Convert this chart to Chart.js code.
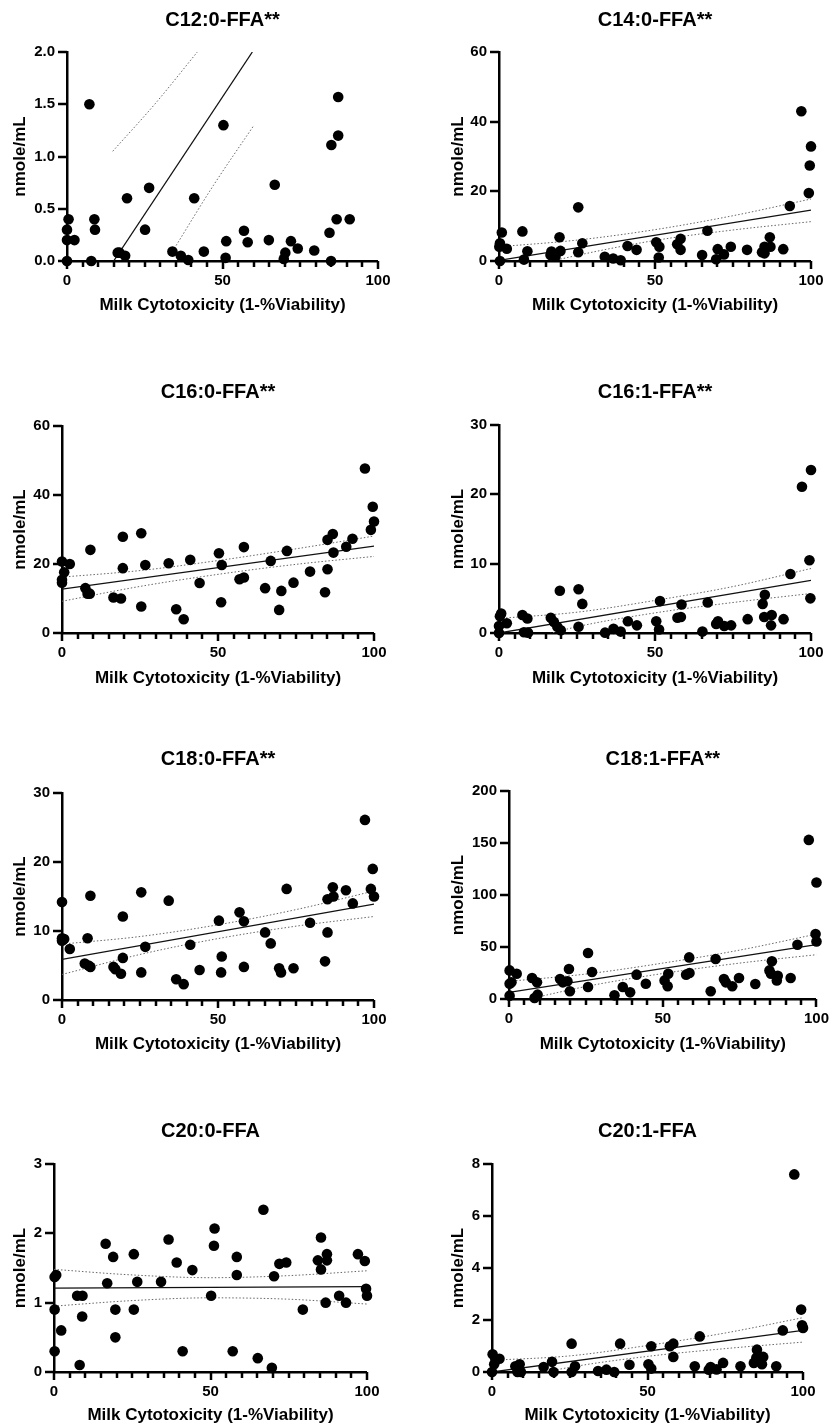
<!DOCTYPE html>
<html><head><meta charset="utf-8">
<script src="https://cdn.jsdelivr.net/npm/chart.js@4.4.1/dist/chart.umd.min.js"></script>
<style>
html,body{margin:0;padding:0;background:#fff;width:834px;height:1427px;overflow:hidden;}
canvas{position:absolute;}
</style></head><body>
<script>
// ---------- DATA ----------
const titles = ['C12:0-FFA**','C14:0-FFA**','C16:0-FFA**','C16:1-FFA**','C18:0-FFA**','C18:1-FFA**','C20:0-FFA','C20:1-FFA'];
const xAxisTitle = 'Milk Cytotoxicity (1-%Viability)';
const yAxisTitle = 'nmole/mL';
const xTickLabels = ['0','50','100'];
const yMax = [2, 60, 60, 30, 30, 200, 3, 8];
const yStep = [0.5, 20, 20, 10, 10, 50, 1, 2];

const c12_0_points = [[0,0],[0,0.3],[0,0.2],[0.5,0.4],[2.4,0.2],[7.2,1.5],[7.8,0],[8.8,0.4],[9.0,0.3],[16.3,0.08],[16.9,0.08],[18.7,0.05],[19.3,0.6],[25.1,0.3],[26.4,0.7],[33.9,0.09],[36.6,0.05],[39.0,0.01],[40.9,0.6],[44.0,0.09],[50.3,1.3],[51.2,0.19],[51.0,0.03],[56.9,0.29],[58.1,0.18],[64.9,0.2],[66.8,0.73],[69.7,0.02],[70.2,0.08],[72.0,0.19],[74.2,0.12],[79.5,0.1],[84.4,0.27],[84.9,0],[85.0,1.11],[87.2,1.2],[87.2,1.57],[86.7,0.4],[90.9,0.4]];
const c12_0_fit = [[15,0],[59.6,2]];
const c12_0_upper = [[14.7,1.05],[28.2,1.5],[41.9,2.0]];
const c12_0_lower = [[34.5,0.12],[47,0.72],[59.9,1.29]];

const c14_0_points = [[0.3,0],[0.1,4.1],[0.3,5.1],[0.9,8.2],[2.5,3.5],[7.5,8.5],[8.0,0.4],[9.1,2.8],[16.5,1.7],[16.8,2.7],[18.1,1.2],[19.4,6.8],[19.7,2.9],[25.4,15.4],[25.4,2.5],[26.7,5.1],[33.9,1.2],[36.6,0.7],[39.0,0.2],[41.2,4.3],[44.1,3.2],[50.4,5.4],[51.4,4.1],[51.2,1.0],[57.1,4.8],[58.2,6.4],[58.2,3.2],[65.1,1.7],[66.8,8.7],[69.6,0.5],[70.1,3.4],[72.1,1.9],[74.3,4.1],[79.5,3.2],[84.3,2.5],[85.1,4.1],[85.1,2.2],[86.8,6.8],[87.0,4.1],[91.1,3.4],[93.2,15.8],[96.9,43.0],[99.3,19.5],[99.6,27.4],[100,32.9]];
const c14_0_fit = [[0,0.2],[100,14.6]];
const c14_0_upper = [[0,4.1],[25,6.0],[50,9.0],[75,13.0],[100,17.8]];
const c14_0_lower = [[0,-3.7],[25,1.6],[50,5.9],[75,8.9],[100,11.3]];

const c16_0_points = [[0,20.7],[0,15.4],[0,14.6],[0.7,17.6],[2.5,20.0],[7.5,13.0],[8.2,11.4],[8.9,11.4],[9.1,24.1],[16.5,10.3],[18.9,10.0],[19.5,27.9],[19.5,18.8],[25.4,7.7],[25.4,28.9],[26.7,19.7],[34.2,20.2],[36.6,6.9],[39.0,4.0],[41.1,21.2],[44.1,14.5],[50.3,23.1],[51.2,19.7],[51.0,8.9],[56.9,15.6],[58.3,16.1],[58.3,24.9],[65.1,13.0],[66.9,20.9],[69.6,6.7],[70.3,12.2],[72.1,23.8],[74.2,14.6],[79.5,17.8],[84.3,11.8],[85.1,18.5],[85.1,27.0],[86.8,28.7],[87.0,23.3],[91.1,25.0],[93.1,27.3],[97.1,47.7],[99.0,29.9],[99.6,36.6],[100,32.3]];
const c16_0_fit = [[0,12.7],[100,25.2]];
const c16_0_upper = [[0,16.2],[25,18.1],[50,21.0],[75,24.4],[100,28.1]];
const c16_0_lower = [[0,9.2],[25,13.5],[50,17.0],[75,19.9],[100,22.2]];

const c16_1_points = [[0,0],[0,1.0],[0.3,2.4],[0.7,2.8],[2.5,1.4],[7.5,2.6],[8.0,0.1],[9.1,2.1],[9.3,0.05],[16.6,2.2],[17.6,1.6],[18.7,0.9],[19.5,6.1],[19.8,0.4],[25.5,6.3],[25.5,0.9],[26.7,4.2],[34.0,0.05],[36.7,0.6],[39.0,0.2],[41.3,1.7],[44.2,1.1],[50.4,1.7],[51.6,4.6],[51.3,0.5],[57.2,2.2],[58.3,2.3],[58.5,4.1],[65.2,0.2],[66.9,4.4],[69.6,1.3],[70.2,1.7],[72.2,1.0],[74.4,1.1],[79.7,2.0],[84.5,4.2],[85.2,5.5],[85.0,2.3],[87.2,1.1],[87.4,2.6],[91.2,2.0],[93.4,8.5],[97.1,21.1],[99.5,10.5],[100,23.5],[99.8,5.0]];
const c16_1_fit = [[0,0],[100,7.6]];
const c16_1_upper = [[0,2.1],[25,3.0],[50,4.7],[75,6.7],[100,9.3]];
const c16_1_lower = [[0,-2.1],[25,0.9],[50,2.9],[75,4.4],[100,5.7]];

const c18_0_points = [[0,14.2],[0,8.95],[0,8.6],[0.7,8.85],[2.5,7.4],[7.3,5.3],[8.2,8.95],[8.5,5.0],[9.1,4.8],[9.1,15.1],[16.5,4.8],[17.1,4.45],[18.9,3.8],[19.5,12.1],[19.5,6.1],[25.4,15.6],[25.4,4.0],[26.7,7.7],[34.2,14.4],[36.6,3.0],[39.0,2.3],[41.1,8.0],[44.1,4.35],[50.3,11.5],[51.2,6.3],[51.0,4.0],[56.9,12.7],[58.3,11.4],[58.3,4.8],[65.1,9.8],[66.9,8.2],[69.6,4.6],[70.2,4.0],[72.0,16.1],[74.2,4.6],[79.5,11.2],[84.3,5.6],[85.1,9.8],[85.1,14.6],[86.8,16.35],[87.0,15.0],[91.0,15.9],[93.2,14.0],[97.1,26.1],[99.0,16.1],[99.6,19.0],[100,15.0]];
const c18_0_fit = [[0,5.9],[100,13.9]];
const c18_0_upper = [[0,8.1],[25,9.2],[50,10.9],[75,13.1],[100,15.8]];
const c18_0_lower = [[0,3.7],[25,6.6],[50,8.9],[75,10.7],[100,12.1]];

const c18_1_points = [[0.2,27.5],[0.2,14.7],[0.8,16.0],[0.2,3.2],[2.5,24.3],[7.5,20.2],[8.3,1.0],[9.1,16],[9.3,4.2],[16.6,19.2],[17.5,16],[19.0,17],[19.5,28.8],[19.8,7.4],[25.7,44.2],[25.7,11.5],[27.0,25.9],[34.3,3.5],[37.0,11.5],[39.4,6.4],[41.5,23.4],[44.5,14.7],[50.6,17.9],[51.8,24.3],[51.6,12.2],[57.6,23.4],[58.7,25],[58.6,40],[65.6,7.4],[67.2,38.4],[69.9,19.2],[70.5,16],[72.6,12.2],[74.8,20.2],[80.1,14.4],[84.7,27.5],[85.5,36.2],[85.2,24.3],[87.1,17.9],[87.4,22.4],[91.6,20.2],[93.8,52.2],[97.5,153],[99.7,62.4],[100,55.4],[100,112]];
const c18_1_fit = [[0,6.4],[100,52.2]];
const c18_1_upper = [[0,17],[25,24],[50,34.5],[75,47],[100,62.4]];
const c18_1_lower = [[0,-4.5],[25,12],[50,24.5],[75,34.5],[100,42.6]];

const c20_0_points = [[0.2,1.37],[0.7,1.40],[0.2,0.9],[0.2,0.3],[2.3,0.6],[7.4,1.1],[8.2,0.1],[9.1,1.1],[9.0,0.8],[16.5,1.85],[17.0,1.28],[18.9,1.66],[19.6,0.9],[19.6,0.5],[25.5,1.7],[25.5,0.9],[26.6,1.3],[34.2,1.3],[36.6,1.91],[39.2,1.58],[41.1,0.3],[44.2,1.47],[50.2,1.1],[51.1,1.82],[51.3,2.07],[57.1,0.3],[58.4,1.66],[58.4,1.40],[65.1,0.2],[66.9,2.34],[69.6,0.06],[70.3,1.38],[72.0,1.56],[74.2,1.58],[79.5,0.9],[84.3,1.61],[85.3,1.48],[85.3,1.94],[87.2,1.7],[87.2,1.61],[86.8,1.0],[91.1,1.1],[93.3,1.0],[97.1,1.7],[99.3,1.6],[99.7,1.2],[100,1.1]];
const c20_0_fit = [[0,1.21],[100,1.23]];
const c20_0_upper = [[0,1.48],[25,1.40],[50,1.36],[75,1.39],[100,1.46]];
const c20_0_lower = [[0,0.95],[25,1.03],[50,1.07],[75,1.05],[100,0.98]];

const c20_1_points = [[0.2,0.68],[0,0],[0.7,0.3],[1.1,0.49],[2.4,0.51],[7.5,0.22],[8.2,0],[8.9,0.3],[9.3,0],[16.6,0.19],[19.3,0.39],[19.8,0],[25.6,1.09],[25.6,0],[26.7,0.22],[34.1,0.04],[36.8,0.09],[39.3,0],[41.2,1.09],[44.2,0.28],[50.3,0.3],[51.2,0.99],[51.2,0.13],[57.2,0.99],[58.3,1.09],[58.3,0.58],[65.2,0.22],[66.8,1.37],[69.7,0.09],[70.3,0.19],[72.2,0.1],[74.3,0.35],[79.9,0.22],[84.2,0.35],[85.2,0.86],[85.0,0.55],[86.8,0.3],[87.2,0.58],[91.4,0.22],[93.5,1.6],[97.2,7.6],[99.4,2.4],[99.7,1.8],[100,1.69]];
const c20_1_fit = [[0,0],[100,1.6]];
const c20_1_upper = [[0,0.45],[25,0.62],[50,1.02],[75,1.5],[100,2.09]];
const c20_1_lower = [[0,-0.45],[25,0.18],[50,0.6],[75,0.9],[100,1.15]];

const panelPoints = [c12_0_points,c14_0_points,c16_0_points,c16_1_points,c18_0_points,c18_1_points,c20_0_points,c20_1_points];
const panelFit = [c12_0_fit,c14_0_fit,c16_0_fit,c16_1_fit,c18_0_fit,c18_1_fit,c20_0_fit,c20_1_fit];
const panelUpper = [c12_0_upper,c14_0_upper,c16_0_upper,c16_1_upper,c18_0_upper,c18_1_upper,c20_0_upper,c20_1_upper];
const panelLower = [c12_0_lower,c14_0_lower,c16_0_lower,c16_1_lower,c18_0_lower,c18_1_lower,c20_0_lower,c20_1_lower];

// ---------- LAYOUT (page pixels) ----------
const layout = [
  {L:67, R:378, T:52,  B:261,  titleY:19.5, xTitleY:305,  yTitleX:20},
  {L:499,R:811, T:52,  B:261,  titleY:19.5, xTitleY:305,  yTitleX:458},
  {L:62, R:374, T:426, B:633,  titleY:392,  xTitleY:678,  yTitleX:20},
  {L:499,R:811, T:425, B:633,  titleY:392,  xTitleY:678,  yTitleX:458},
  {L:62, R:374, T:793, B:1000, titleY:759,  xTitleY:1044, yTitleX:20},
  {L:509,R:820, T:791, B:999,  titleY:759,  xTitleY:1044, yTitleX:458},
  {L:54, R:367, T:1164,B:1372, titleY:1131, xTitleY:1415, yTitleX:20},
  {L:492,R:803, T:1164,B:1372, titleY:1131, xTitleY:1415, yTitleX:458}
];

const FONT = "'Liberation Sans', Arial, Helvetica, sans-serif";
const TITLE_SIZE = 20, AXT_SIZE = 17, TICK_SIZE = 15;
const toXY = arr => arr.map(p => ({x:p[0], y:p[1]}));

// axis tick marks (long at labelled values, short otherwise) at the scales' own tick values
const prismTicks = {
  id: 'prismTicks',
  afterDraw(chart) {
    const ctx = chart.ctx, xs = chart.scales.x, ys = chart.scales.y, a = chart.chartArea;
    ctx.save();
    ctx.fillStyle = '#000';
    xs.ticks.forEach(t => {
      const px = Math.round(xs.getPixelForValue(t.value));
      const len = xTickLabels.includes(String(t.value)) ? 8 : 6;
      ctx.fillRect(px - 1.25, a.bottom, 2.5, len);
    });
    ys.ticks.forEach(t => {
      const py = Math.round(ys.getPixelForValue(t.value));
      ctx.fillRect(a.left - 9, py - 1.25, 9, 2.5);
    });
    ctx.restore();
  }
};

function makeChart(i){
  const lay = layout[i];
  const tLH = TITLE_SIZE*1.2, aLH = AXT_SIZE*1.2;
  const cl = Math.round(lay.yTitleX - aLH/2);
  const ct = Math.round(lay.titleY - tLH/2);
  const cr = Math.min(834, lay.R + 26);
  const cb = Math.ceil(lay.xTitleY + aLH/2) + 2;
  const yw = lay.L - cl;
  const xh = lay.xTitleY + aLH/2 - lay.B;
  const padBottom = cb - (lay.xTitleY + aLH/2);
  const canvas = document.createElement('canvas');
  canvas.width = cr - cl; canvas.height = cb - ct;
  canvas.style.left = cl + 'px'; canvas.style.top = ct + 'px';
  canvas.style.width = (cr - cl) + 'px'; canvas.style.height = (cb - ct) + 'px';
  document.body.appendChild(canvas);

  const yDec = yStep[i] < 1;
  new Chart(canvas, {
    type: 'scatter',
    data: { datasets: [
      { data: toXY(panelPoints[i]), pointRadius: 5.3, pointBackgroundColor: '#000', pointBorderWidth: 0, pointBorderColor:'#000', showLine: false, clip: false },
      { data: toXY(panelFit[i]), showLine: true, borderColor: '#111', borderWidth: 1.3, pointRadius: 0, tension: 0 },
      { data: toXY(panelUpper[i]), showLine: true, borderColor: '#666', borderWidth: 1, borderDash: [1.5, 2], pointRadius: 0, cubicInterpolationMode: 'monotone' },
      { data: toXY(panelLower[i]), showLine: true, borderColor: '#666', borderWidth: 1, borderDash: [1.5, 2], pointRadius: 0, cubicInterpolationMode: 'monotone' }
    ]},
    plugins: [prismTicks],
    options: {
      responsive: false, animation: false, devicePixelRatio: 1,
      layout: { padding: { left: 0, right: cr - lay.R, top: 0, bottom: padBottom } },
      plugins: {
        legend: { display: false }, tooltip: { enabled: false },
        title: { display: true, text: titles[i], fullSize: false, color: '#000',
          font: { family: FONT, size: TITLE_SIZE, weight: 'bold', lineHeight: 1.2 },
          padding: { top: 0, bottom: lay.T - ct - tLH } }
      },
      scales: {
        x: {
          type: 'linear', min: 0, max: 100,
          afterFit: s => { s.height = xh; },
          border: { display: true, color: '#000', width: 2.5 },
          grid: { display: true, drawOnChartArea: false, drawTicks: true, tickLength: 6, tickColor: 'rgba(0,0,0,0)', color: 'rgba(0,0,0,0)', lineWidth: 0 },
          ticks: { stepSize: 5, maxTicksLimit: 30, autoSkip: false, maxRotation: 0, color: '#000', padding: 5,
            font: { family: FONT, size: TICK_SIZE, weight: 'bold' },
            callback: v => xTickLabels.includes(String(v)) ? String(v) : '' },
          title: { display: true, text: xAxisTitle, color: '#000', padding: 0,
            font: { family: FONT, size: AXT_SIZE, weight: 'bold', lineHeight: 1.2 } }
        },
        y: {
          type: 'linear', min: 0, max: yMax[i],
          afterFit: s => { s.width = yw; },
          border: { display: true, color: '#000', width: 2.5 },
          grid: { display: true, drawOnChartArea: false, drawTicks: true, tickLength: 8, tickColor: 'rgba(0,0,0,0)', color: 'rgba(0,0,0,0)', lineWidth: 0 },
          ticks: { stepSize: yStep[i], color: '#000', padding: 4,
            font: { family: FONT, size: TICK_SIZE, weight: 'bold' },
            callback: v => yDec ? Number(v).toFixed(1) : String(v) },
          title: { display: true, text: yAxisTitle, color: '#000', padding: 0,
            font: { family: FONT, size: AXT_SIZE, weight: 'bold', lineHeight: 1.2 } }
        }
      }
    }
  });
}
for (let i = 0; i < 8; i++) makeChart(i);
</script>
</body></html>
